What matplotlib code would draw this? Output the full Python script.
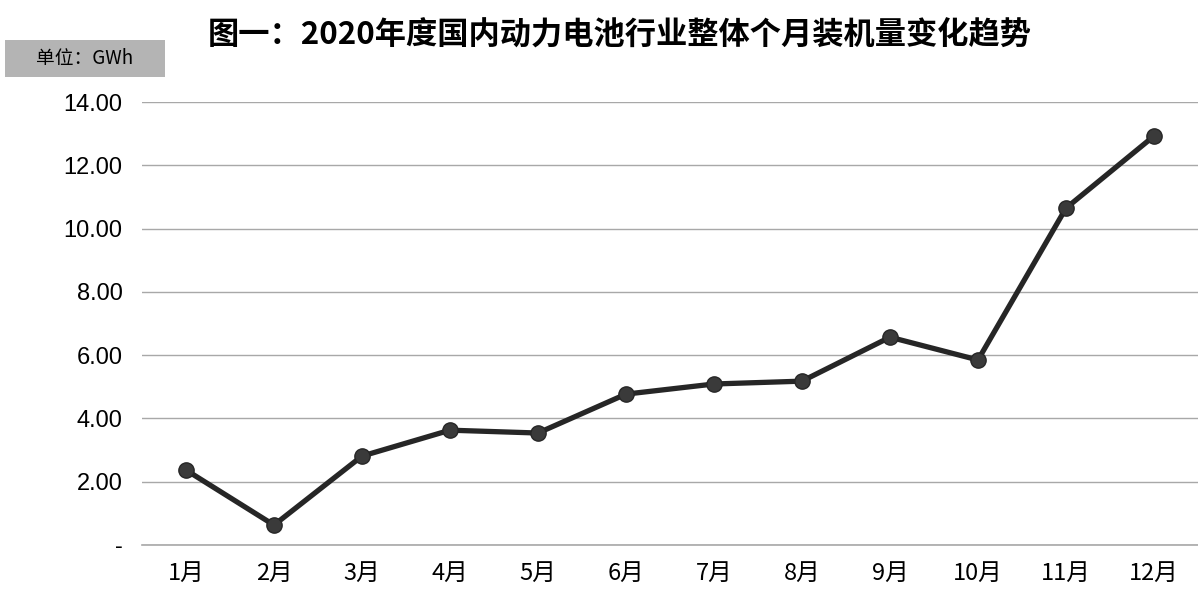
import numpy as np
import matplotlib
matplotlib.use("Agg")
import matplotlib.pyplot as plt
from matplotlib.ticker import FuncFormatter
from matplotlib.patches import Rectangle

plt.rcParams['font.family'] = ['Noto Sans CJK SC', 'DejaVu Sans']

months = ['1月', '2月', '3月', '4月', '5月', '6月', '7月', '8月', '9月', '10月', '11月', '12月']
volume = [2.37, 0.63, 2.81, 3.63, 3.54, 4.77, 5.09, 5.18, 6.57, 5.85, 10.65, 12.93]
yticks = [0, 2, 4, 6, 8, 10, 12, 14]

fig = plt.figure(figsize=(11.98, 5.94), dpi=100)
ax = fig.add_axes([0.1185, 0.0825, 0.8815, 0.7455])

x = np.arange(len(months))
ax.plot(x, volume, color='#262626', lw=3.8, marker='o', markersize=11,
        markerfacecolor='#3a3a3a', markeredgecolor='#262626', zorder=3)

ax.set_xlim(-0.5, len(months) - 0.5)
ax.set_ylim(0, 14)
ax.set_yticks(yticks)
ax.yaxis.set_major_formatter(FuncFormatter(lambda v, p: '-' if v == 0 else '%.2f' % v))
ax.grid(axis='y', color='#a8a8a8', lw=1)
ax.axhline(0, color='#a8a8a8', lw=1.2, clip_on=False, zorder=1)
ax.set_axisbelow(True)
for s in ax.spines.values():
    s.set_visible(False)
ax.tick_params(length=0)
ax.tick_params(axis='y', pad=14, labelsize=17)
ax.set_xticks(x)
ax.set_xticklabels(months, fontsize=17)
ax.tick_params(axis='x', pad=12)
for lab in ax.get_yticklabels():
    lab.set_family(['Liberation Sans', 'DejaVu Sans'])

fig.text(0.517, 0.94, '图一：2020年度国内动力电池行业整体个月装机量变化趋势',
         ha='center', va='center', fontsize=22.5, fontweight='bold')
# unit label box
fig.patches.append(Rectangle((0.004, 0.870), 0.134, 0.062, transform=fig.transFigure,
                             facecolor='#b4b4b4', edgecolor='none'))
fig.text(0.071, 0.901, '单位：GWh', ha='center', va='center', fontsize=13.5,
         family=['Noto Sans CJK SC', 'DejaVu Sans'])

fig.savefig('out.png', dpi=100)
